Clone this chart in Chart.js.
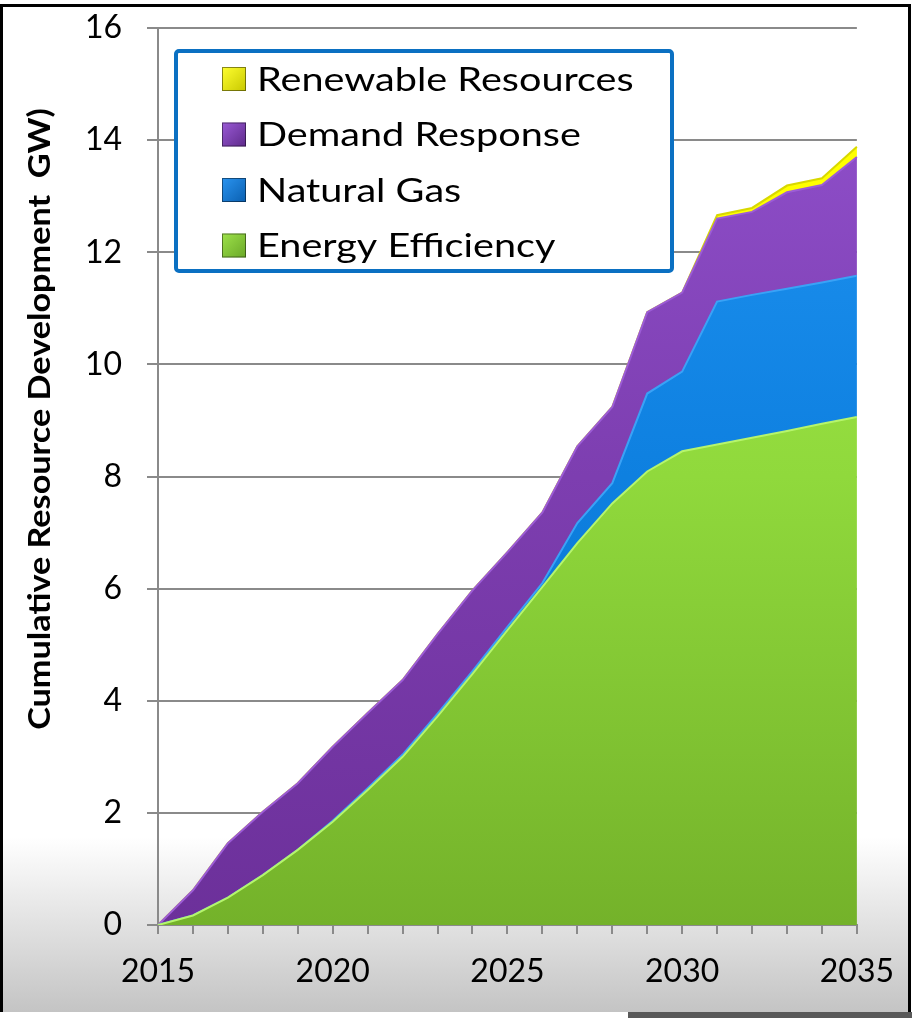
<!DOCTYPE html>
<html>
<head>
<meta charset="utf-8">
<script src="https://cdn.jsdelivr.net/npm/chart.js@4.4.1/dist/chart.umd.min.js"></script>
<style>
  html, body { margin: 0; padding: 0; background: #fff; }
  #frame {
    position: absolute; left: 0; top: 4px; width: 905px; height: 1005px;
    border-left: 3px solid #000; border-right: 3px solid #000; border-top: 3px solid #000;
    background: linear-gradient(to bottom, #fff 0px, #fff 830px, #c4c4c4 1005px);
  }
  #strip { position: absolute; left: 628px; top: 1012px; width: 284px; height: 6px; background: #595959; }
  #chart { position: absolute; left: 0; top: 0; }
</style>
</head>
<body>
<div id="frame"></div>
<div id="strip"></div>
<canvas id="chart" width="912" height="1018"></canvas>
<script>
// years on the x axis
const years = [2015, 2016, 2017, 2018, 2019, 2020, 2021, 2022, 2023, 2024, 2025,
  2026, 2027, 2028, 2029, 2030, 2031, 2032, 2033, 2034, 2035];

// cumulative GW per resource (stacked)
const energyEfficiency = [0, 0.17, 0.49, 0.89, 1.34, 1.84, 2.41, 3.00, 3.72, 4.48, 5.26,
  6.03, 6.81, 7.52, 8.09, 8.45, 8.57, 8.69, 8.81, 8.94, 9.06];
const naturalGas = [0, 0, 0, 0, 0, 0.02, 0.03, 0.04, 0.05, 0.05, 0.06,
  0.07, 0.36, 0.36, 1.39, 1.42, 2.55, 2.55, 2.54, 2.52, 2.52];
const demandResponse = [0, 0.45, 0.97, 1.13, 1.19, 1.32, 1.34, 1.33, 1.42, 1.44, 1.33,
  1.26, 1.37, 1.36, 1.45, 1.41, 1.48, 1.48, 1.72, 1.74, 2.12];
const renewableResources = [0, 0, 0, 0, 0, 0, 0, 0, 0, 0, 0,
  0, 0, 0, 0, 0, 0.06, 0.07, 0.12, 0.12, 0.18];

const yTicks = [0, 2, 4, 6, 8, 10, 12, 14, 16];
const yTitle = 'Cumulative Resource Development  GW)';

const FONT = 'Lato';

// vertical gradient across the plot area
function vgrad(stops) {
  return (context) => {
    const { ctx, chartArea } = context.chart;
    if (!chartArea) return stops[stops.length - 1];
    const g = ctx.createLinearGradient(0, chartArea.top, 0, chartArea.bottom);
    stops.forEach((c, i) => g.addColorStop(i / (stops.length - 1), c));
    return g;
  };
}

const series = [
  { label: 'Energy Efficiency', data: energyEfficiency, fill: 'origin',
    colors: ['#a8ee4e', '#90d93c', '#74b22a'], line: '#b6f56c', swatch: ['#9ee24a', '#6aa828'] },
  { label: 'Natural Gas', data: naturalGas, fill: '-1',
    colors: ['#2296f4', '#0e80e0', '#0a70c8'], line: '#3aa2f6', swatch: ['#2a94f0', '#0a5fb0'] },
  { label: 'Demand Response', data: demandResponse, fill: '-1',
    colors: ['#9252cf', '#7d3eb0', '#6c309a'], line: '#9c5cd6', swatch: ['#9a5ad6', '#5e2a8a'] },
  { label: 'Renewable Resources', data: renewableResources, fill: '-1',
    colors: ['#ffff00', '#ffff00'], line: '#d8d800', swatch: ['#ffff30', '#c8c800'] }
];

// bordered legend box drawn inside the plot
const boxLegend = {
  id: 'boxLegend',
  afterDraw(chart) {
    const ctx = chart.ctx;
    ctx.save();
    ctx.beginPath();
    ctx.roundRect(176, 51, 496, 220, 3);
    ctx.fillStyle = '#fff';
    ctx.fill();
    ctx.lineWidth = 4;
    ctx.strokeStyle = '#0b70c2';
    ctx.stroke();

    const items = series.slice().reverse();
    items.forEach((s, i) => {
      const y = 79 + i * 55.5;
      const g = ctx.createLinearGradient(222, y - 12, 246, y + 12);
      g.addColorStop(0, s.swatch[0]);
      g.addColorStop(1, s.swatch[1]);
      ctx.fillStyle = g;
      ctx.fillRect(222, y - 12, 24, 24);
      ctx.lineWidth = 1;
      ctx.strokeStyle = 'rgba(0,0,0,0.45)';
      ctx.strokeRect(222.5, y - 11.5, 23, 23);
      // text is a bit wider than Lato, stretch it
      ctx.save();
      ctx.translate(257, y + 1);
      ctx.scale(1.2, 1);
      ctx.font = '33px ' + FONT;
      ctx.textBaseline = 'middle';
      ctx.textAlign = 'left';
      ctx.fillStyle = '#000';
      ctx.fillText(s.label, 0, 0);
      ctx.restore();
    });
    ctx.restore();
  }
};

// rotated y axis title
const yAxisTitle = {
  id: 'yAxisTitle',
  afterDraw(chart) {
    const ctx = chart.ctx;
    ctx.save();
    ctx.translate(40, 419);
    ctx.rotate(-Math.PI / 2);
    ctx.scale(1.14, 1);
    ctx.font = 'bold 30px ' + FONT;
    ctx.fillStyle = '#000';
    ctx.textAlign = 'center';
    ctx.textBaseline = 'middle';
    ctx.fillText(yTitle, 0, 0);
    ctx.restore();
  }
};

new Chart(document.getElementById('chart'), {
  type: 'line',
  data: {
    labels: years,
    datasets: series.map((s) => ({
      label: s.label,
      data: s.data,
      fill: s.fill,
      backgroundColor: vgrad(s.colors),
      borderColor: s.line,
      borderWidth: 2,
      pointRadius: 0,
      tension: 0
    }))
  },
  options: {
    responsive: false,
    animation: false,
    layout: { padding: { top: 28, right: 55, left: 0, bottom: 0 } },
    plugins: { legend: { display: false }, tooltip: { enabled: false } },
    scales: {
      x: {
        type: 'category',
        offset: false,
        grid: { display: true, drawOnChartArea: false, drawTicks: true, tickLength: 9, color: '#8a8a8a', lineWidth: 2 },
        border: { color: '#8a8a8a', width: 2 },
        ticks: {
          autoSkip: false, maxRotation: 0, color: '#000', padding: 18,
          font: { family: FONT, size: 32 },
          callback: (v, i) => (years[i] % 5 === 0 ? String(years[i]) : '')
        },
        afterFit: (s) => { s.height = 93; }
      },
      y: {
        stacked: true,
        min: yTicks[0],
        max: yTicks[yTicks.length - 1],
        afterBuildTicks: (s) => { s.ticks = yTicks.map((v) => ({ value: v })); },
        grid: { color: '#8a8a8a', lineWidth: 2, tickLength: 11 },
        border: { color: '#8a8a8a', width: 2 },
        ticks: { color: '#000', padding: 25, font: { family: FONT, size: 32 } },
        afterFit: (s) => { s.width = 158; s.paddingTop = 0; s.paddingBottom = 0; }
      }
    }
  },
  plugins: [boxLegend, yAxisTitle]
});
</script>
</body>
</html>
